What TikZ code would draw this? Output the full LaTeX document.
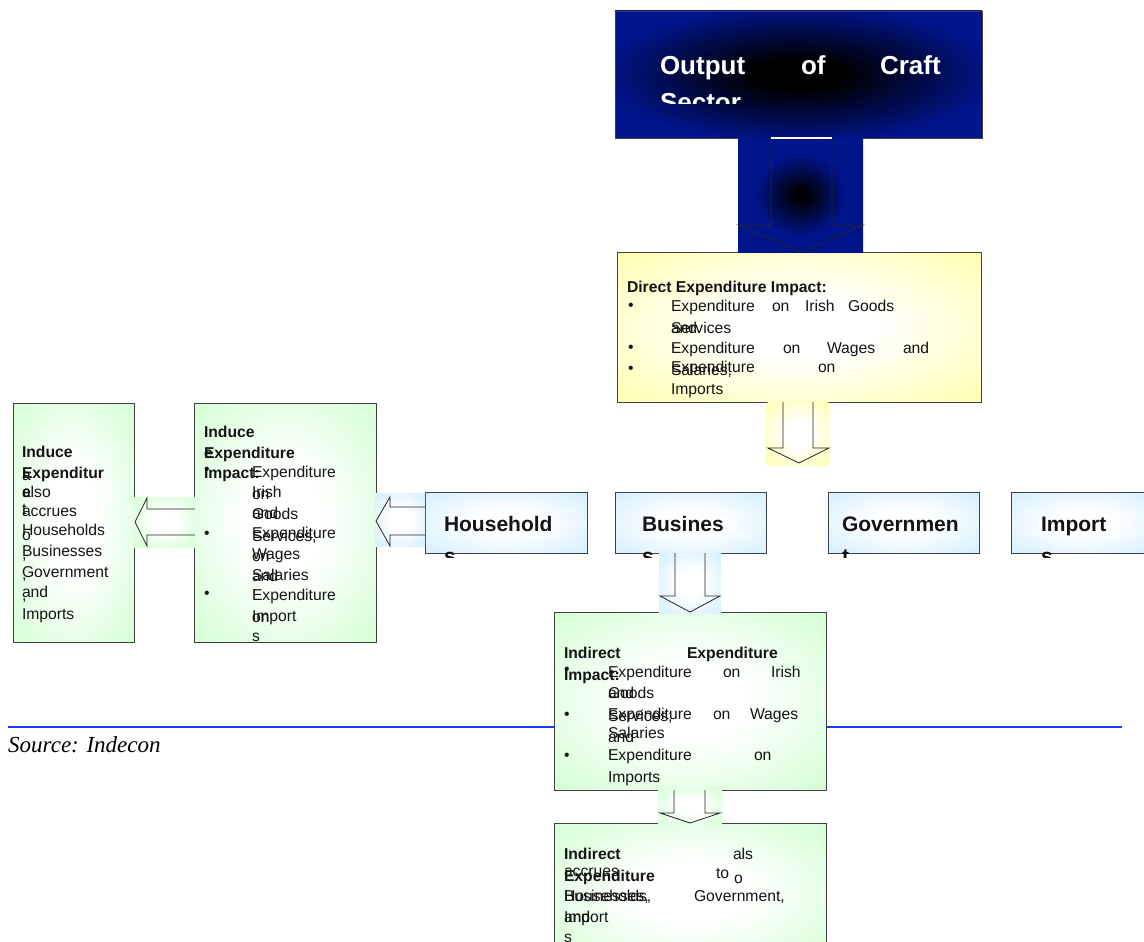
\documentclass[tikz,border=0pt]{standalone}
\usepackage{fontspec}
\setmainfont{Liberation Sans}
\newfontfamily\srcfont{Liberation Serif}
\definecolor{navy}{RGB}{0,20,140}
\definecolor{yel}{RGB}{255,255,160}
\definecolor{grn}{RGB}{204,255,204}
\definecolor{lblue}{RGB}{204,236,255}
\definecolor{rulec}{RGB}{20,60,255}
\pgfdeclareradialshading{nshade}{\pgfpoint{0bp}{0bp}}{color(0bp)=(black); color(6bp)=(black); color(27bp)=(navy); color(50bp)=(navy)}
\pgfdeclareradialshading{ashade}{\pgfpoint{0bp}{0bp}}{color(0bp)=(black); color(2bp)=(black); color(18bp)=(navy); color(50bp)=(navy)}
\pgfdeclareradialshading{yshade}{\pgfpoint{0bp}{0bp}}{color(0bp)=(white); color(10bp)=(white); color(40bp)=(yel); color(50bp)=(yel)}
\pgfdeclareradialshading{gshade}{\pgfpoint{0bp}{0bp}}{color(0bp)=(white); color(10bp)=(white); color(40bp)=(grn); color(50bp)=(grn)}
\pgfdeclareradialshading{bshade}{\pgfpoint{0bp}{0bp}}{color(0bp)=(white); color(10bp)=(white); color(40bp)=(lblue); color(50bp)=(lblue)}
\newcount\tn
\newcommand\tx[4][txt]{\global\advance\tn by 1 \node[#1,name=t\the\tn] at (#2,#3) {#4};}
\begin{document}
\begin{tikzpicture}[x=1pt,y=-1pt,
  box/.style={draw=black!75, line width=0.8pt, inner sep=0pt, outer sep=0pt, anchor=north west, shade},
  bgbox/.style={inner sep=0pt, outer sep=0pt, anchor=north west, shade},
  txt/.style={anchor=base west, inner sep=0pt, outer sep=0pt, font=\fontsize{15.7}{18}\selectfont, text=black!92},
  btxt/.style={txt, font=\fontsize{15.7}{18}\selectfont\bfseries},
  htxt/.style={txt, font=\fontsize{21}{24}\selectfont\bfseries},
  ttxt/.style={txt, font=\fontsize{26}{30}\selectfont\bfseries, text=white},
  arr/.style={draw=black!85, line width=0.8pt, line join=miter}]
\useasboundingbox (0,0) rectangle (1144,942);
\clip (0,0) rectangle (1144,942);

% rule and source
\coordinate (rl) at (8,727);
\coordinate (rr) at (1122,727);
\draw[rulec, line width=2pt] (rl) -- (rr);
\node[anchor=base west, inner sep=0pt, font=\srcfont\itshape\fontsize{23}{26}\selectfont] (src) at (8,752) {Source: Indecon};

% boxes
\node[box, shading=nshade, minimum width=367pt, minimum height=127pt] (top) at (615,11) {};
\node[box, shading=yshade, minimum width=364pt, minimum height=150pt] (direct) at (617,252) {};
\node[box, shading=gshade, minimum width=182pt, minimum height=239pt] (ind2) at (194,403) {};
\node[box, shading=gshade, minimum width=121pt, minimum height=239pt] (ind1) at (13,403) {};
\node[box, shading=bshade, minimum width=162pt, minimum height=61pt] (hh) at (425,492) {};
\node[box, shading=bshade, minimum width=151pt, minimum height=61pt] (bus) at (615,492) {};
\node[box, shading=bshade, minimum width=151pt, minimum height=61pt] (gov) at (828,492) {};
\node[box, shading=bshade, minimum width=145pt, minimum height=61pt] (imp) at (1011,492) {};
\node[box, shading=gshade, minimum width=272pt, minimum height=178pt] (indA) at (554,612) {};
\node[box, shading=gshade, minimum width=272pt, minimum height=140pt] (indB) at (554,823) {};

% arrow backgrounds
\node[bgbox, shading=ashade, minimum width=125pt, minimum height=114pt] (a1bg) at (738,138) {};
\node[bgbox, shading=yshade, minimum width=64pt, minimum height=64pt, rounded corners=3pt] (a2bg) at (766,402) {};
\node[bgbox, shading=bshade, minimum width=50pt, minimum height=53pt] (a3bg) at (375,493) {};
\node[bgbox, shading=gshade, minimum width=61pt, minimum height=50pt] (a4bg) at (134,497) {};
\node[bgbox, shading=bshade, minimum width=62pt, minimum height=60pt] (a5bg) at (659,553) {};
\node[bgbox, shading=gshade, minimum width=64pt, minimum height=37pt] (a6bg) at (658,787) {};

% arrow outlines
\draw[white, line width=1.2pt] (771,138) -- (832,138);
\draw[arr] (771,139) -- (771,225) -- (738,225) -- (801,252) -- (863,225) -- (832,225) -- (832,139);
\draw[arr] (783,402) -- (783,448) -- (768,448) -- (799,463) -- (829,448) -- (813,448) -- (813,402);
\draw[arr] (425,507) -- (390,507) -- (390,497) -- (376,521) -- (390,546) -- (390,535) -- (425,535);
\draw[arr] (195,509) -- (147,509) -- (147,498) -- (135,522) -- (147,546) -- (147,535) -- (195,535);
\draw[arr] (675,553) -- (675,596) -- (660,596) -- (690,612) -- (720,596) -- (705,596) -- (705,553);
\draw[arr] (674,790) -- (674,813) -- (660,813) -- (690,823) -- (720,813) -- (705,813) -- (705,790);

% top box text
\begin{scope}
\clip (615,11) rectangle (982,104);
\tx[ttxt]{660}{75}{Output}
\tx[ttxt]{801}{75}{of}
\tx[ttxt]{880}{75}{Craft}
\tx[ttxt]{660}{111}{Sector}
\end{scope}

% direct box text
\tx[btxt]{627}{292}{Direct Expenditure Impact:}
\tx{628}{310}{•}
\tx{671}{311}{Expenditure}
\tx{772}{311}{on}
\tx{805}{311}{Irish}
\tx{848}{311}{Goods}
\tx{671}{333}{and}
\tx{671}{333}{Services}
\tx{628}{352}{•}
\tx{671}{346}{,}
\tx{671}{353}{Expenditure}
\tx{783}{353}{on}
\tx{827}{353}{Wages}
\tx{903}{353}{and}
\tx{628}{373}{•}
\tx{671}{372}{Expenditure}
\tx{818}{372}{on}
\tx{671}{375}{Salaries;}
\tx{671}{394}{Imports}

% header texts
\tx[htxt]{444}{531}{Household}
\tx[htxt]{642}{531}{Busines}
\tx[htxt]{842}{531}{Governmen}
\tx[htxt]{1041}{531}{Import}
\begin{scope}
\clip (400,540) rectangle (1144,557);
\tx[htxt]{444}{563}{s}
\tx[htxt]{642}{563}{s}
\tx[htxt]{842}{563}{t}
\tx[htxt]{1041}{563}{s}
\end{scope}

% induce box 2
\tx[btxt]{204}{437}{Induce}
\tx[btxt]{204}{458}{Expenditure}
\tx[btxt]{204}{458}{e}
\tx{204}{474}{•}
\tx[btxt]{204}{478}{Impact:}
\tx{252}{477}{Expenditure}
\tx{252}{497}{Irish}
\tx{252}{499}{on}
\tx{252}{518}{and}
\tx{252}{519}{Goods}
\tx{204}{538}{•}
\tx{252}{538}{Expenditure}
\tx{252}{541}{Services;}
\tx{252}{559}{Wages}
\tx{252}{561}{on}
\tx{252}{580}{Salaries}
\tx{252}{581}{and}
\tx{204}{598}{•}
\tx{252}{591}{,}
\tx{252}{600}{Expenditure}
\tx{252}{621}{Import}
\tx{252}{622}{on}
\tx{252}{641}{s}

% induce box 1
\tx[btxt]{22}{457}{Induce}
\tx[btxt]{22}{478}{Expenditur}
\tx{22}{480}{a}
\tx[btxt]{22}{497}{e}
\tx{22}{497}{also}
\tx{22}{516}{accrues}
\tx{22}{514}{t}
\tx{22}{535}{Households}
\tx{22}{540}{o}
\tx{22}{556}{Businesses}
\tx{22}{559}{,}
\tx{22}{577}{Government}
\tx{22}{579}{,}
\tx{22}{597}{and}
\tx{22}{600}{,}
\tx{22}{619}{Imports}

% indirect box A
\tx[btxt]{564}{658}{Indirect}
\tx[btxt]{687}{658}{Expenditure}
\tx{564}{674}{•}
\tx[btxt]{564}{680}{Impact:}
\tx{608}{677}{Expenditure}
\tx{723}{677}{on}
\tx{771}{677}{Irish}
\tx{608}{698}{and}
\tx{608}{698}{Goods}
\tx{564}{719}{•}
\tx{608}{719}{Expenditure}
\tx{608}{721}{Services;}
\tx{713}{719}{on}
\tx{750}{719}{Wages}
\tx{608}{738}{Salaries}
\tx{608}{742}{and}
\tx{564}{760}{•}
\tx{608}{752}{,}
\tx{608}{760}{Expenditure}
\tx{754}{760}{on}
\tx{608}{782}{Imports}

% indirect box B
\tx[btxt]{564}{859}{Indirect}
\tx{733}{859}{als}
\tx{564}{876}{accrues}
\tx[btxt]{564}{881}{Expenditure}
\tx{716}{878}{to}
\tx{734}{883}{o}
\tx{564}{901}{Households,}
\tx{564}{901}{Businesses,}
\tx{694}{901}{Government,}
\tx{564}{922}{and}
\tx{564}{922}{Import}
\tx{564}{942}{s}
\end{tikzpicture}
\end{document}
